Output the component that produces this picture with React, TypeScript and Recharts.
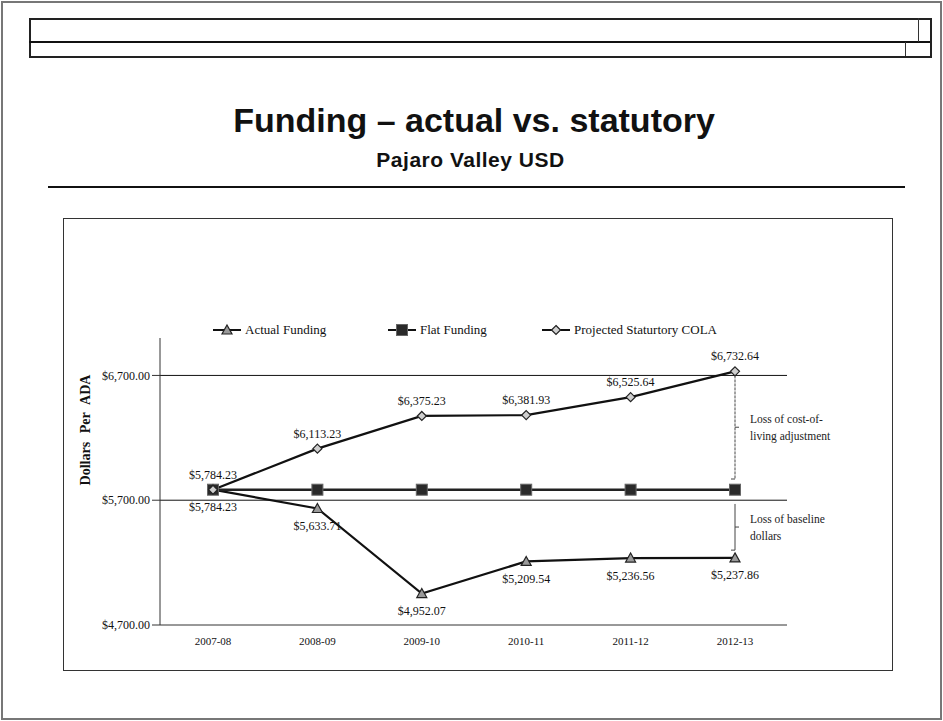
import React from "react";
import { LineChart, Line, XAxis, YAxis, LabelList, ReferenceLine } from "recharts";

const years = ["2007-08", "2008-09", "2009-10", "2010-11", "2011-12", "2012-13"];
const actualFunding = [5784.23, 5633.71, 4952.07, 5209.54, 5236.56, 5237.86];
const flatFunding = [5784.23, 5784.23, 5784.23, 5784.23, 5784.23, 5784.23];
const colaFunding = [5784.23, 6113.23, 6375.23, 6381.93, 6525.64, 6732.64];
const yTicks = [4700, 5700, 6700];
const gridLines = [5700, 6700];

const chartData = years.map((name, i) => ({
  name,
  actual: actualFunding[i],
  flat: flatFunding[i],
  cola: colaFunding[i],
}));

const SERIF = "'Liberation Serif', 'Times New Roman', serif";
const SANS = "'Liberation Sans', Arial, sans-serif";

const money = (v: number) =>
  "$" + v.toLocaleString("en-US", { minimumFractionDigits: 2, maximumFractionDigits: 2 });

const TriangleDot = (props: any) => {
  const { cx, cy } = props;
  if (cx == null || cy == null) return null;
  return (
    <path
      d={`M${cx},${cy - 5} L${cx + 5},${cy + 4} L${cx - 5},${cy + 4} Z`}
      fill="#9a9a9a"
      stroke="#222"
      strokeWidth={1.2}
    />
  );
};

const SquareDot = (props: any) => {
  const { cx, cy } = props;
  if (cx == null || cy == null) return null;
  return <rect x={cx - 5.5} y={cy - 5.5} width={11} height={11} fill="#2a2a2a" stroke="#666" strokeWidth={1} />;
};

const DiamondDot = (props: any) => {
  const { cx, cy } = props;
  if (cx == null || cy == null) return null;
  return (
    <path
      d={`M${cx},${cy - 4.5} L${cx + 4.5},${cy} L${cx},${cy + 4.5} L${cx - 4.5},${cy} Z`}
      fill="#cfcfcf"
      stroke="#222"
      strokeWidth={1.2}
    />
  );
};

// bracket with a small stub in the middle and a two-line note beside it
const bracket = (lines: string[], dashed: boolean) => (props: any) => {
  const { x1, y1, x2, y2 } = props;
  if (x1 == null) return null;
  const top = Math.min(y1, y2);
  const bottom = Math.max(y1, y2);
  const mid = (top + bottom) / 2;
  return (
    <g>
      <line x1={x1} y1={top} x2={x2} y2={bottom} stroke="#444" strokeWidth={1} strokeDasharray={dashed ? "3 1" : undefined} />
      <line x1={x1} y1={mid} x2={x1 + 4} y2={mid} stroke="#444" strokeWidth={1} />
      <line x1={x1} y1={bottom} x2={x1 - 4} y2={bottom} stroke="#444" strokeWidth={1} />
      <text x={x1 + 15} y={mid - 4} fontFamily={SERIF} fontSize={11.5} fill="#222">
        {lines[0]}
      </text>
      <text x={x1 + 15} y={mid + 13} fontFamily={SERIF} fontSize={11.5} fill="#222">
        {lines[1]}
      </text>
    </g>
  );
};

const legendItems = [
  { label: "Actual Funding", left: 213, Dot: TriangleDot },
  { label: "Flat Funding", left: 388, Dot: SquareDot },
  { label: "Projected Staturtory COLA", left: 542, Dot: DiamondDot },
];

const YLabel = () => (
  <text
    x={27}
    y={212}
    transform="rotate(-90, 27, 212)"
    textAnchor="middle"
    fontFamily={SERIF}
    fontWeight={700}
    fontSize={14}
    wordSpacing={5}
    fill="#111"
  >
    Dollars Per ADA
  </text>
);

export default function App() {
  return (
    <div style={{ position: "relative", width: 943, height: 721, background: "#fff", overflow: "hidden" }}>
      <style>{"body{margin:0}"}</style>
      {/* page frame */}
      <div style={{ position: "absolute", left: 1, top: 1, width: 937, height: 715, border: "2px solid #777" }} />
      {/* header box */}
      <div style={{ position: "absolute", left: 29, top: 18, width: 899, height: 36, border: "2px solid #222" }} />
      <div style={{ position: "absolute", left: 29, top: 41, width: 901, height: 2, background: "#111" }} />
      <div style={{ position: "absolute", left: 918, top: 18, width: 1, height: 24, background: "#333" }} />
      <div style={{ position: "absolute", left: 905, top: 42, width: 1, height: 14, background: "#333" }} />

      <div
        style={{
          position: "absolute",
          left: 0,
          width: 948,
          top: 103,
          textAlign: "center",
          fontFamily: SANS,
          fontWeight: 700,
          fontSize: 34,
          lineHeight: "34px",
          color: "#111",
        }}
      >
        Funding – actual vs. statutory
      </div>
      <div
        style={{
          position: "absolute",
          left: 0,
          width: 941,
          top: 149,
          textAlign: "center",
          fontFamily: SANS,
          fontWeight: 700,
          fontSize: 21,
          lineHeight: "21px",
          color: "#111",
          letterSpacing: 0.5,
        }}
      >
        Pajaro Valley USD
      </div>
      <div style={{ position: "absolute", left: 48, top: 186, width: 857, height: 2, background: "#111" }} />

      {/* chart box */}
      <div style={{ position: "absolute", left: 63, top: 218, width: 828, height: 451, border: "1.5px solid #333" }} />

      {legendItems.map(({ label, left, Dot }) => (
        <div
          key={label}
          style={{
            position: "absolute",
            left,
            top: 322,
            height: 16,
            display: "flex",
            alignItems: "center",
            fontFamily: SERIF,
            fontSize: 13,
            color: "#111",
            whiteSpace: "nowrap",
          }}
        >
          <svg width={28} height={16} style={{ marginRight: 4 }}>
            <line x1={0} y1={8} x2={28} y2={8} stroke="#111" strokeWidth={2} />
            <Dot cx={14} cy={8} />
          </svg>
          {label}
        </div>
      ))}

      <div style={{ position: "absolute", left: 63, top: 218 }}>
        <LineChart width={830} height={453} data={chartData} margin={{ top: 120, right: 106, bottom: 16, left: 25 }}>
          <XAxis
            dataKey="name"
            padding={{ left: 53, right: 52 }}
            tickLine={false}
            axisLine={{ stroke: "#333" }}
            tickSize={6}
            tickMargin={6}
            height={30}
            tick={{ fontFamily: SERIF, fontSize: 11, fill: "#111" }}
          />
          <YAxis
            domain={[4700, 7000]}
            ticks={yTicks}
            width={72}
            tickSize={8}
            tickMargin={2}
            tickFormatter={money}
            axisLine={{ stroke: "#333" }}
            tickLine={{ stroke: "#333" }}
            tick={{ fontFamily: SERIF, fontSize: 12, fill: "#111" }}
            label={<YLabel />}
          />
          {gridLines.map((v) => (
            <ReferenceLine key={v} y={v} stroke="#111" strokeWidth={1} />
          ))}
          <ReferenceLine
            segment={[
              { x: "2012-13", y: 6700 },
              { x: "2012-13", y: 5870 },
            ]}
            shape={bracket(["Loss of cost-of-", "living adjustment"], true)}
          />
          <ReferenceLine
            segment={[
              { x: "2012-13", y: 5670 },
              { x: "2012-13", y: 5300 },
            ]}
            shape={bracket(["Loss of baseline", "dollars"], false)}
          />
          <Line
            dataKey="actual"
            name="Actual Funding"
            stroke="#111"
            strokeWidth={2.2}
            dot={<TriangleDot />}
            isAnimationActive={false}
          >
            <LabelList
              dataKey="actual"
              position="bottom"
              offset={13}
              formatter={(v: any) => money(Number(v))}
              style={{ fontFamily: SERIF, fontSize: 12, fill: "#111" }}
            />
          </Line>
          <Line
            dataKey="flat"
            name="Flat Funding"
            stroke="#222"
            strokeWidth={2.5}
            dot={<SquareDot />}
            isAnimationActive={false}
          />
          <Line
            dataKey="cola"
            name="Projected Staturtory COLA"
            stroke="#111"
            strokeWidth={2.2}
            dot={<DiamondDot />}
            isAnimationActive={false}
          >
            <LabelList
              dataKey="cola"
              position="top"
              offset={11}
              formatter={(v: any) => money(Number(v))}
              style={{ fontFamily: SERIF, fontSize: 12, fill: "#111" }}
            />
          </Line>
        </LineChart>
      </div>
    </div>
  );
}
